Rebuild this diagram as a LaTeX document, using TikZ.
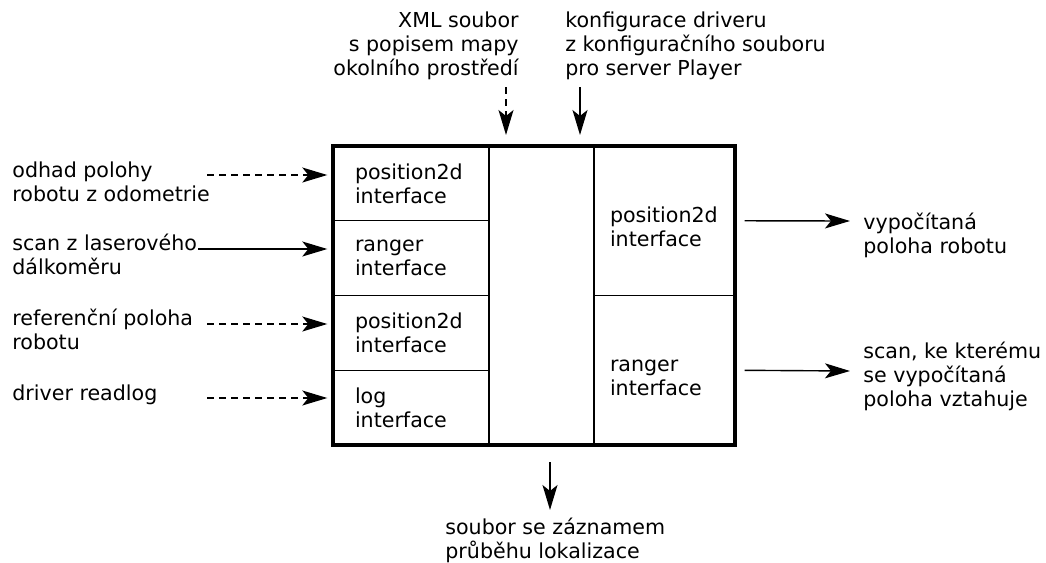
\documentclass[tikz,border=0pt]{standalone}
\usepackage{fontspec}
\setmainfont{DejaVu Sans}
\usetikzlibrary{arrows.meta}

\begin{document}
\begin{tikzpicture}[x=0.5pt,y=-0.5pt,
    every node/.style={font=\fontsize{10.3pt}{12pt}\selectfont},
    >={Stealth[length=12.5pt,width=7.5pt,inset=3pt]}]

  \useasboundingbox (0,0) rectangle (1046,563);

  % inputs of the driver
  \begin{scope}[every node/.style={draw,line width=0.7pt,align=left,
      minimum width=78pt,minimum height=37.375pt,text width=56pt,inner xsep=11pt,
      font=\fontsize{10.3pt}{12pt}\selectfont}]
    \node (c1) at (411,183.4) {position2d\\interface};
    \node (c2) at (411,258.1) {ranger\\interface};
    \node (c3) at (411,332.9) {position2d\\interface};
    \node (c4) at (411,407.6) {log\\interface};
  \end{scope}

  \node[draw,line width=0.7pt,minimum width=52.5pt,minimum height=149.5pt] (mid) at (541.5,295.5) {};

  % outputs of the driver
  \begin{scope}[every node/.style={draw,line width=0.7pt,align=left,
      minimum width=70.5pt,minimum height=74.75pt,text width=54.5pt,inner xsep=8pt,
      text height=13.8pt,font=\fontsize{10.3pt}{12pt}\selectfont}]
    \node (r1) at (664.5,220.75) {position2d\\interface};
    \node (r2) at (664.5,370.25) {ranger\\interface};
  \end{scope}

  \node[draw,line width=2pt,minimum width=201pt,minimum height=149.5pt] (box) at (534,295.5) {};

  \begin{scope}[every node/.style={inner sep=0pt,align=left,anchor=base west,
      font=\fontsize{10.3pt}{12pt}\selectfont}]
    \node (odo) at (12,201) {odhad polohy\\robotu z odometrie};
    \node (laser) at (12,274) {scan z laserového\\dálkoměru};
    \node (ref) at (12,349) {referenční poloha\\robotu};
    \node (readlog) at (12,400) {driver readlog};
    \node[align=right,anchor=base east] (xml) at (519,75) {XML soubor\\s popisem mapy\\okolního prostředí};
    \node (cfg) at (565,75) {konfigurace driveru\\z konfiguračního souboru\\pro server Player};
    \node (pose) at (863,253) {vypočítaná\\poloha robotu};
    \node (scan) at (863,406) {scan, ke kterému\\se vypočítaná\\poloha vztahuje};
    \node (logfile) at (445,558) {soubor se záznamem\\průběhu lokalizace};
  \end{scope}

  \coordinate (odoin) at (207,175);
  \coordinate (laserin) at (198,249);
  \coordinate (refin) at (207,324);
  \coordinate (readlogin) at (207,398);
  \coordinate (xmlin) at (506,87);
  \coordinate (cfgin) at (580,87);
  \coordinate (poseout) at (850,221);
  \coordinate (scanout) at (850,371);
  \coordinate (logout) at (550,510);

  \begin{scope}[pdash/.style={dash pattern=on 3.5pt off 2.5pt},
      every edge/.style={draw=black,line width=0.7pt}]
    \path [->,shorten >=2.5pt] (odoin) edge[pdash] (odoin -| c1.west);
    \path [->,shorten >=2.5pt] (laserin) edge (laserin -| c2.west);
    \path [->,shorten >=2.5pt] (refin) edge[pdash] (refin -| c3.west);
    \path [->,shorten >=2.5pt] (readlogin) edge[pdash] (readlogin -| c4.west);
    \path [->,shorten >=4.5pt] (xmlin) edge[pdash] (xmlin |- box.north);
    \path [->,shorten >=4.5pt] (cfgin) edge (cfgin |- box.north);
    \path [->,shorten <=4.5pt] (r1.east) edge (poseout);
    \path [->,shorten <=4.5pt] (r2.east) edge (scanout);
    \path [->,shorten <=7.5pt] (logout |- box.south) edge (logout);
  \end{scope}
\end{tikzpicture}
\end{document}
